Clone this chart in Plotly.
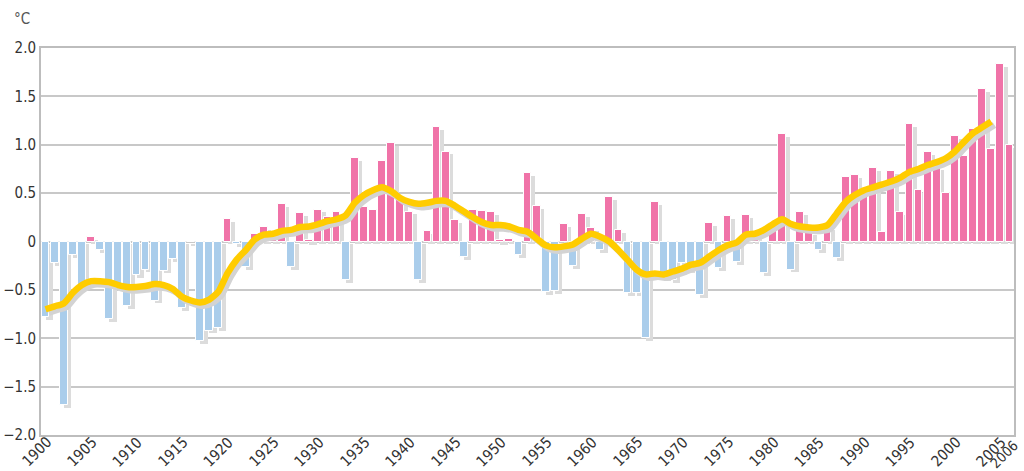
import plotly.graph_objects as go

# Annual temperature anomaly (°C), 1900-2006
years = list(range(1900, 2007))
anomaly = [
    -0.78, -0.22, -1.69, -0.14, -0.47, 0.05, -0.09, -0.80, -0.48, -0.67,
    -0.35, -0.29, -0.61, -0.30, -0.18, -0.69, -0.01, -1.03, -0.92, -0.89,
    0.23, -0.03, -0.26, 0.08, 0.15, 0.07, 0.39, -0.26, 0.29, 0.02,
    0.33, 0.25, 0.30, -0.40, 0.86, 0.36, 0.33, 0.83, 1.02, 0.46,
    0.31, -0.40, 0.11, 1.18, 0.93, 0.22, -0.16, 0.33, 0.32, 0.30,
    0.02, 0.03, -0.14, 0.71, 0.37, -0.52, -0.51, 0.18, -0.25, 0.28,
    0.14, -0.09, 0.46, 0.12, -0.53, -0.53, -1.00, 0.41, -0.38, -0.40,
    -0.22, -0.30, -0.55, 0.19, -0.27, 0.26, -0.21, 0.27, 0.07, -0.33,
    0.19, 1.11, -0.29, 0.30, 0.10, -0.09, 0.15, -0.17, 0.67, 0.69,
    0.48, 0.76, 0.10, 0.73, 0.30, 1.21, 0.53, 0.92, 0.77, 0.50,
    1.09, 0.88, 1.16, 1.58, 0.96, 1.83, 1.00,
]

# Smoothed trend, 1900-2004
trend_years = list(range(1900, 2005))
trend = [
    -0.70, -0.67, -0.64, -0.53, -0.45, -0.41, -0.41, -0.42, -0.45, -0.47,
    -0.47, -0.46, -0.44, -0.45, -0.49, -0.57, -0.61, -0.63, -0.60, -0.52,
    -0.33, -0.19, -0.09, 0.02, 0.07, 0.08, 0.11, 0.12, 0.15, 0.155,
    0.18, 0.21, 0.23, 0.27, 0.40, 0.48, 0.53, 0.56, 0.52, 0.45,
    0.41, 0.39, 0.40, 0.42, 0.42, 0.37, 0.31, 0.25, 0.20, 0.17,
    0.17, 0.155, 0.12, 0.10, 0.03, -0.04, -0.06, -0.05, -0.03, 0.03,
    0.08, 0.05, 0.00, -0.09, -0.19, -0.29, -0.34, -0.33, -0.34, -0.31,
    -0.28, -0.24, -0.22, -0.155, -0.09, -0.04, -0.01, 0.07, 0.08, 0.12,
    0.18, 0.23, 0.18, 0.155, 0.145, 0.145, 0.17, 0.29, 0.41, 0.48,
    0.53, 0.56, 0.59, 0.62, 0.66, 0.72, 0.75, 0.79, 0.82, 0.86,
    0.93, 1.03, 1.12, 1.18, 1.24,
]

y_ticks = [-2.0, -1.5, -1.0, -0.5, 0.0, 0.5, 1.0, 1.5, 2.0]
y_labels = ["\u22122.0", "\u22121.5", "\u22121.0", "\u22120.5", "0", "0.5", "1.0", "1.5", "2.0"]
x_ticks = list(range(1900, 2006, 5)) + [2006]
x_labels = [str(v) for v in x_ticks]

PINK = "#F073A8"
BLUE = "#AACDEB"
SHADOW = "#DCDCDC"
GOLD = "#FFCC00"
FONT = "Liberation Sans Narrow, DejaVu Sans Condensed, Arial Narrow, sans-serif"

bar_colors = [PINK if v >= 0 else BLUE for v in anomaly]

fig = go.Figure()

# drop shadow behind the bars (shifted right and slightly down)
fig.add_trace(go.Bar(
    x=[y + 0.42 for y in years], y=anomaly, base=-0.03, width=0.8,
    marker=dict(color=SHADOW, line=dict(width=0)),
    hoverinfo="skip", showlegend=False,
))

fig.add_trace(go.Bar(
    x=years, y=anomaly, width=0.86,
    marker=dict(color=bar_colors, line=dict(color="white", width=1)),
    showlegend=False,
))

# shadow of the trend line
fig.add_trace(go.Scatter(
    x=[y + 0.35 for y in trend_years], y=[v - 0.035 for v in trend],
    mode="lines", line=dict(color="#D3D3D3", width=6.5, shape="spline", smoothing=0.6),
    hoverinfo="skip", showlegend=False,
))

fig.add_trace(go.Scatter(
    x=trend_years, y=trend, mode="lines",
    line=dict(color=GOLD, width=6.5, shape="spline", smoothing=0.6),
    showlegend=False,
))

# slanted year labels under the axis; the last one is nudged clear of 2005
annotations = [
    dict(text="\u00b0C", xref="paper", yref="paper", x=0, y=1,
         xanchor="left", yanchor="middle", xshift=-29, yshift=29,
         showarrow=False, font=dict(family=FONT, size=15, color="#555555")),
]
for yr, lab in zip(x_ticks, x_labels):
    last = yr == x_ticks[-1]
    annotations.append(dict(
        text=lab, xref="x", yref="paper", x=yr, y=0,
        xanchor="center", yanchor="middle",
        xshift=-5 if last else -9, yshift=-19 if last else -17,
        textangle=-45, showarrow=False,
        font=dict(family=FONT, size=14 if last else 15, color="#333333"),
    ))

fig.update_layout(
    width=1024, height=471,
    margin=dict(l=41, r=10, t=48, b=36),
    paper_bgcolor="white", plot_bgcolor="white",
    barmode="overlay", bargap=0,
    font=dict(family=FONT, size=15, color="#333333"),
    xaxis=dict(
        range=[1899.5, 2006.5], tickmode="array",
        tickvals=x_ticks, showticklabels=False,
        showgrid=False, zeroline=False, ticks="", automargin=False,
        showline=True, mirror=True, linecolor="#BDBDBD", linewidth=2,
    ),
    yaxis=dict(
        range=[-2.0, 2.0], tickmode="array",
        tickvals=y_ticks, ticktext=y_labels, automargin=False,
        showgrid=True, gridcolor="#C8C8C8", gridwidth=1.5,
        zeroline=False, ticks="",
        showline=True, mirror=True, linecolor="#BDBDBD", linewidth=2,
        tickfont=dict(family=FONT, size=15, color="#333333"),
    ),
    annotations=annotations,
)

fig.write_html("out.html")
